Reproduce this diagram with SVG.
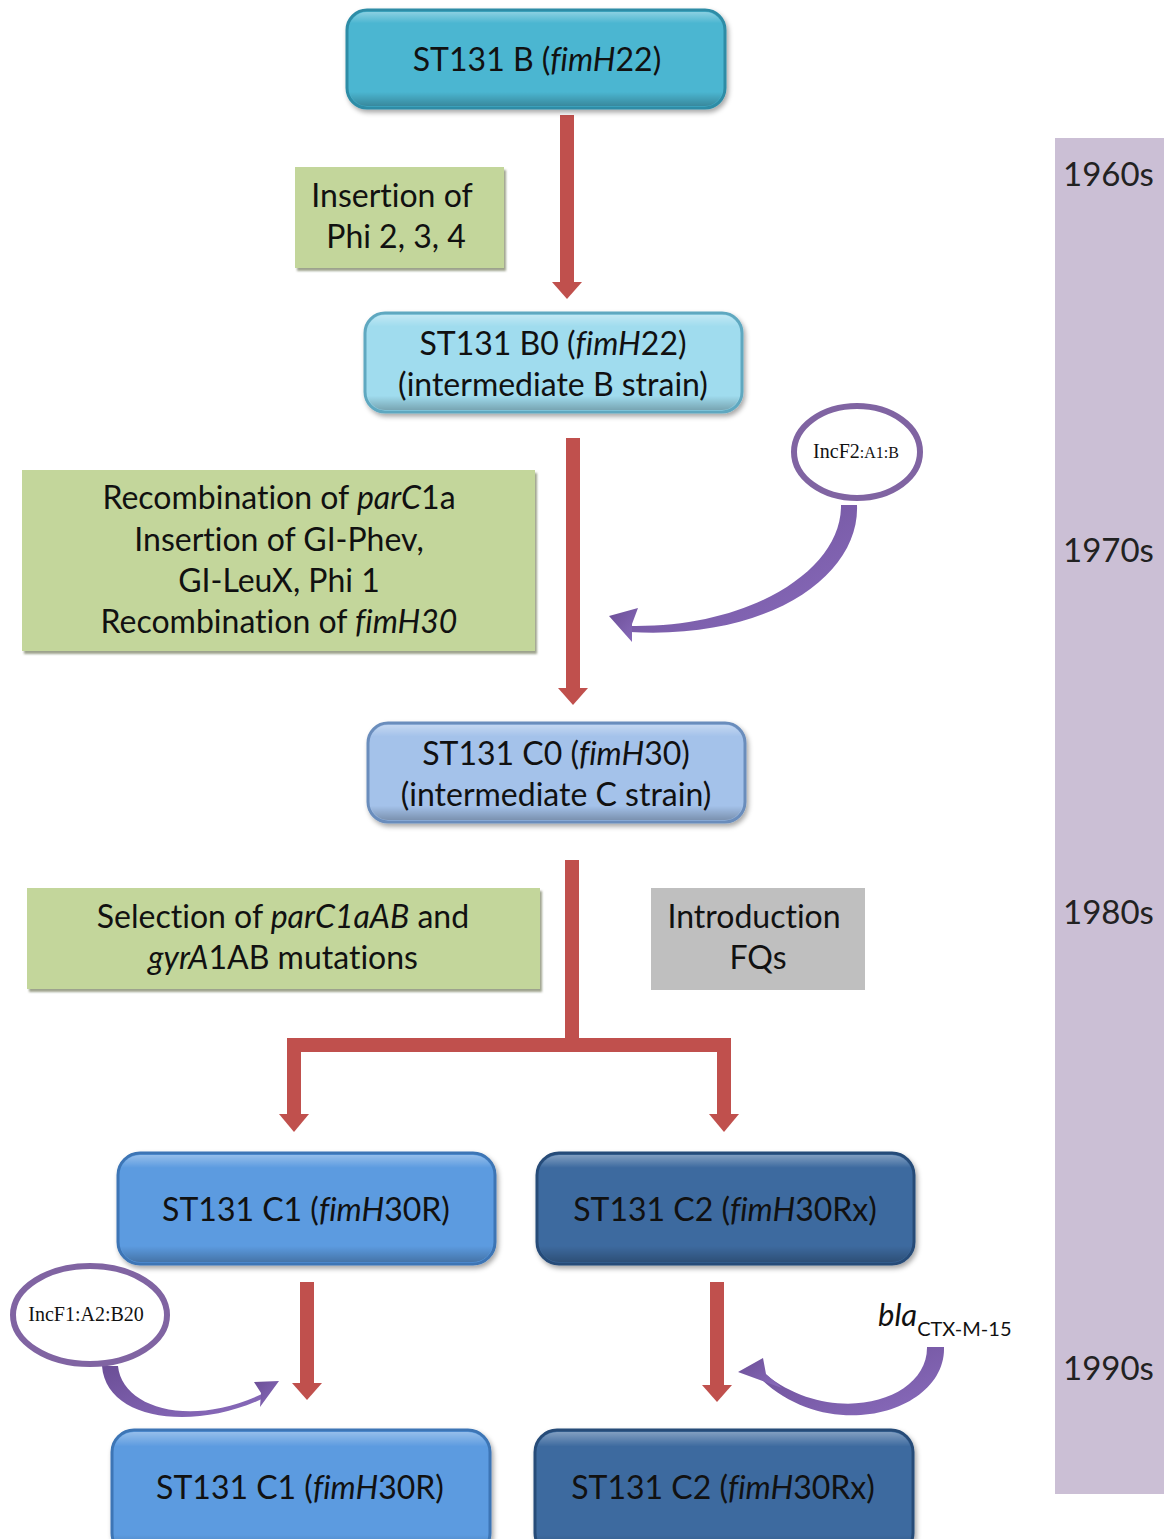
<svg xmlns="http://www.w3.org/2000/svg" width="1164" height="1539" viewBox="0 0 1164 1539">
<defs>
<filter id="sh" x="-10%" y="-10%" width="125%" height="130%">
<feDropShadow dx="2" dy="3" stdDeviation="2.5" flood-color="#000" flood-opacity="0.35"/>
</filter>
<filter id="shb" x="-10%" y="-10%" width="125%" height="130%">
<feDropShadow dx="2" dy="3" stdDeviation="1.2" flood-color="#5a6640" flood-opacity="0.6"/>
</filter>
<linearGradient id="gloss" x1="0" y1="0" x2="0" y2="1">
<stop offset="0" stop-color="#fff" stop-opacity="0.35"/>
<stop offset="0.12" stop-color="#fff" stop-opacity="0"/>
<stop offset="0.85" stop-color="#000" stop-opacity="0"/>
<stop offset="1" stop-color="#000" stop-opacity="0.25"/>
</linearGradient>
<linearGradient id="purp" x1="0" y1="0" x2="1" y2="1">
<stop offset="0" stop-color="#6b4e96"/>
<stop offset="1" stop-color="#8a6cbd"/>
</linearGradient>
</defs>
<style>
.t{font-family:Lato,"Open Sans","Liberation Sans",sans-serif;font-size:32px;fill:#111;text-anchor:middle;font-variant-ligatures:none}
.i{font-style:italic}
.yr{font-family:Lato,"Open Sans","Liberation Sans",sans-serif;font-size:33px;fill:#222}
.sr{font-family:"Liberation Serif","DejaVu Serif",serif;fill:#111;text-anchor:middle}
.red{fill:#C0504D}
.pa{fill:url(#purp)}
.ell{fill:#fff;stroke:#8064A2;stroke-width:6}
.gbox{fill:#C3D69B;filter:url(#shb)}
.hl{fill:url(#gloss)}
</style>

<g id="timeline">
<rect x="1055" y="138" width="109" height="1356" fill="#CBBFD5"/>
<text class="yr" x="1063" y="186">1960s</text>
<text class="yr" x="1063" y="562">1970s</text>
<text class="yr" x="1063" y="924">1980s</text>
<text class="yr" x="1063" y="1380">1990s</text>
</g>

<g id="connectors">
<!-- B to B0 -->
<rect class="red" x="560" y="115" width="14" height="168"/>
<polygon class="red" points="552,282 582,282 567,299"/>
<!-- B0 to C0 -->
<rect class="red" x="566" y="438" width="14" height="252"/>
<polygon class="red" points="558,688 588,688 573,705"/>
<!-- C0 split -->
<rect class="red" x="565" y="860" width="14" height="185"/>
<rect class="red" x="287" y="1038" width="444" height="14"/>
<rect class="red" x="287" y="1038" width="14" height="78"/>
<rect class="red" x="717" y="1038" width="14" height="78"/>
<polygon class="red" points="279,1114 309,1114 294,1132"/>
<polygon class="red" points="709,1114 739,1114 724,1132"/>
<!-- C1 to C1 -->
<rect class="red" x="300" y="1282" width="14" height="102"/>
<polygon class="red" points="292,1383 322,1383 307,1400"/>
<!-- C2 to C2 -->
<rect class="red" x="710" y="1282" width="14" height="104"/>
<polygon class="red" points="702,1385 732,1385 717,1402"/>
<!-- purple curved arrows -->
<path class="pa" d="M841,505 L857,505 C860,575 770,640 630,632 L630,626 C750,628 842,570 841,505 Z"/>
<polygon class="pa" points="609,616 638,608 632,624 632,642"/>
<path class="pa" d="M102,1366 L118,1366 C122,1408 190,1428 262,1394 L264,1398 C192,1432 106,1420 102,1366 Z"/>
<polygon class="pa" points="279,1381 254,1382 261,1393 260,1407"/>
<path class="pa" d="M927,1347 L944,1347 C946,1412 830,1446 760,1378 L765,1374 C832,1428 928,1402 927,1347 Z"/>
<polygon class="pa" points="738,1372 763,1358 766,1374 782,1388"/>
</g>

<g id="nodeB">
<rect x="347" y="10" width="378" height="98" rx="20" fill="#4BB6D1" stroke="#2D8CA6" stroke-width="3" filter="url(#sh)"/>
<rect class="hl" x="349" y="12" width="374" height="94" rx="18"/>
<text class="t" x="537" y="71">ST131 B (<tspan class="i">fimH</tspan>22)</text>
</g>

<g id="boxPhi">
<rect class="gbox" x="295" y="167" width="209" height="101"/>
<text class="t" x="392" y="207">Insertion of</text>
<text class="t" x="396" y="248">Phi 2, 3, 4</text>
</g>

<g id="nodeB0">
<rect x="365" y="313" width="377" height="99" rx="20" fill="#A0DCEE" stroke="#5FA8C0" stroke-width="3" filter="url(#sh)"/>
<rect class="hl" x="367" y="315" width="373" height="95" rx="18"/>
<text class="t" x="553" y="355">ST131 B0 (<tspan class="i">fimH</tspan>22)</text>
<text class="t" x="553" y="396">(intermediate B strain)</text>
</g>

<g id="boxRecomb">
<rect class="gbox" x="22" y="470" width="513" height="181"/>
<text class="t" x="279" y="509">Recombination of <tspan class="i">parC</tspan>1a</text>
<text class="t" x="279" y="551">Insertion of GI-Phev,</text>
<text class="t" x="279" y="592">GI-LeuX, Phi 1</text>
<text class="t" x="279" y="633">Recombination of <tspan class="i">fimH30</tspan></text>
</g>

<g id="plasmidF2">
<ellipse class="ell" cx="857" cy="452" rx="63" ry="46"/>
<text class="sr" x="856" y="458" font-size="20">IncF2<tspan font-size="16">:A1:B</tspan></text>
</g>

<g id="nodeC0">
<rect x="368" y="723" width="377" height="99" rx="20" fill="#A4C2EA" stroke="#6A8DBC" stroke-width="3" filter="url(#sh)"/>
<rect class="hl" x="370" y="725" width="373" height="95" rx="18"/>
<text class="t" x="556" y="765">ST131 C0 (<tspan class="i">fimH</tspan>30)</text>
<text class="t" x="556" y="806">(intermediate C strain)</text>
</g>

<g id="boxSelection">
<rect class="gbox" x="27" y="888" width="513" height="101"/>
<text class="t" x="283" y="928">Selection of <tspan class="i">parC1aAB</tspan> and</text>
<text class="t" x="283" y="969"><tspan class="i">gyrA</tspan>1AB  mutations</text>
</g>

<g id="boxFQ">
<rect x="651" y="888" width="214" height="102" fill="#BFBFBF"/>
<text class="t" x="754" y="928">Introduction</text>
<text class="t" x="758" y="969">FQs</text>
</g>

<g id="nodeC1">
<rect x="118" y="1153" width="377" height="111" rx="22" fill="#5B9BE0" stroke="#3C75B5" stroke-width="3" filter="url(#sh)"/>
<rect class="hl" x="120" y="1155" width="373" height="107" rx="20"/>
<text class="t" x="306" y="1221">ST131 C1 (<tspan class="i">fimH</tspan>30R)</text>
</g>

<g id="nodeC2">
<rect x="537" y="1153" width="377" height="111" rx="22" fill="#3C6A9F" stroke="#274C78" stroke-width="3" filter="url(#sh)"/>
<rect class="hl" x="539" y="1155" width="373" height="107" rx="20"/>
<text class="t" x="725" y="1221">ST131 C2 (<tspan class="i">fimH</tspan>30Rx)</text>
</g>

<g id="plasmidF1">
<ellipse class="ell" cx="90" cy="1315" rx="77" ry="49"/>
<text class="sr" x="86" y="1321" font-size="20">IncF1:A2:B20</text>
</g>

<g id="blaLabel">
<text x="878" y="1326" font-family="Lato,'Open Sans','Liberation Sans',sans-serif" font-size="31" fill="#111"><tspan font-style="italic">bla</tspan><tspan font-size="20" dy="10">CTX-M-15</tspan></text>
</g>

<g id="nodeC1b">
<rect x="112" y="1430" width="378" height="125" rx="22" fill="#5B9BE0" stroke="#3C75B5" stroke-width="3" filter="url(#sh)"/>
<rect class="hl" x="114" y="1432" width="374" height="121" rx="20"/>
<text class="t" x="300" y="1499">ST131 C1 (<tspan class="i">fimH</tspan>30R)</text>
</g>

<g id="nodeC2b">
<rect x="535" y="1430" width="378" height="125" rx="22" fill="#3C6A9F" stroke="#274C78" stroke-width="3" filter="url(#sh)"/>
<rect class="hl" x="537" y="1432" width="374" height="121" rx="20"/>
<text class="t" x="723" y="1499">ST131 C2 (<tspan class="i">fimH</tspan>30Rx)</text>
</g>
</svg>
